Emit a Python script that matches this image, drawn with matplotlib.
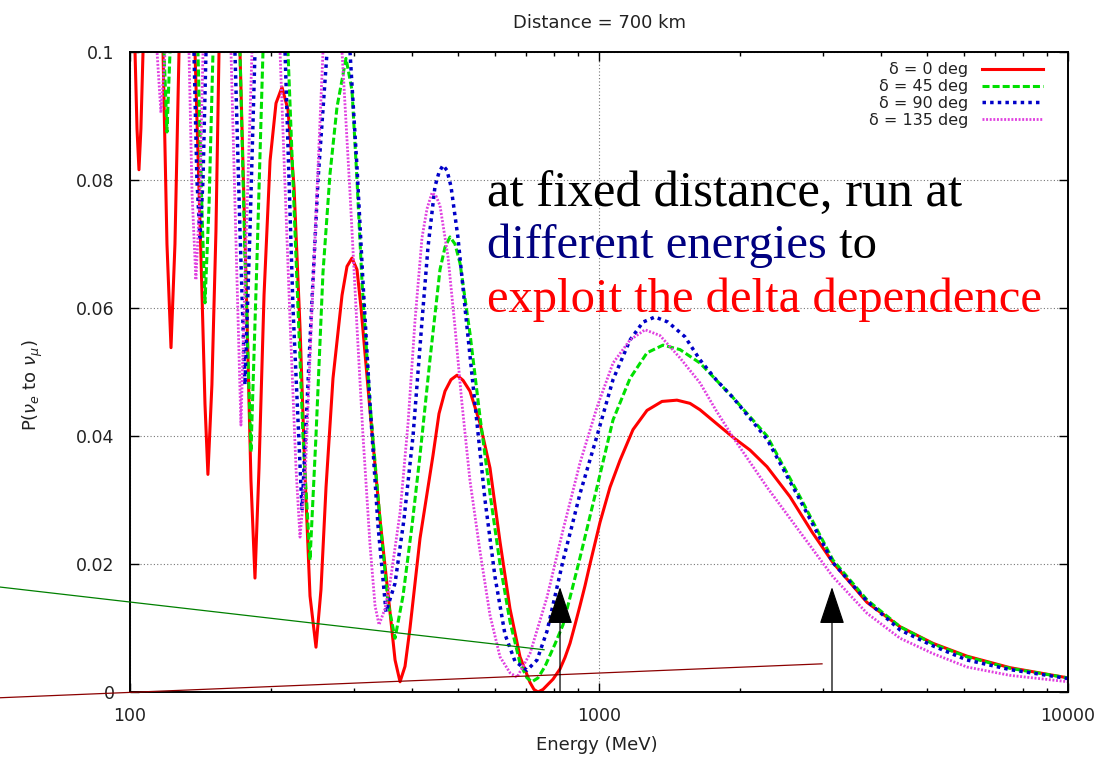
import matplotlib
matplotlib.use('Agg')
from matplotlib import pyplot as plt
from matplotlib.ticker import NullFormatter

# (energy in MeV, probability); values above 0.1 are clipped by the frame
red_delta0 = [(100, 0.125), (102.5, 0.100), (103.5, 0.088), (104.5, 0.0816), (105.5, 0.088), (106.6, 0.100),
              (112.0, 0.150), (117.6, 0.100), (119.9, 0.070), (122.3, 0.0538), (124.7, 0.070), (127.2, 0.100),
              (132.3, 0.135), (137.6, 0.100), (141.7, 0.068), (144.5, 0.045), (146.6, 0.034), (149.5, 0.048),
              (152.5, 0.072), (154.8, 0.100), (162.6, 0.120), (171.6, 0.100), (176.7, 0.065), (181.1, 0.033),
              (184.7, 0.0178), (188.4, 0.035), (193.1, 0.062), (198.9, 0.083), (204.8, 0.092), (210.9, 0.0945),
              (217.2, 0.091), (223.7, 0.079), (230.4, 0.057), (236.1, 0.034), (242.0, 0.015), (249.2, 0.0070),
              (255.4, 0.016), (261.8, 0.032), (270.9, 0.049), (283.2, 0.062), (290.2, 0.0665), (297.4, 0.0678),
              (304.8, 0.0660), (310.9, 0.060), (324.9, 0.044), (341.2, 0.027), (358.4, 0.0125), (367.4, 0.0050),
              (376.5, 0.0016), (385.8, 0.0040), (395.4, 0.010), (415.3, 0.024), (442.7, 0.037), (455.9, 0.0435),
              (469.5, 0.0470), (483.5, 0.0488), (498.0, 0.0495), (512.9, 0.0487), (530.8, 0.047), (557.5, 0.042),
              (585.6, 0.035), (615.0, 0.0235), (646.0, 0.013), (678.5, 0.0055), (712.6, 0.0015), (726.7, 0.0004),
              (741.2, 0.0000), (759.7, 0.0004), (778.5, 0.0012), (797.9, 0.0020), (825.8, 0.0036), (846.3, 0.0054),
              (867.3, 0.0076), (888.9, 0.0105), (911.0, 0.0135), (933.6, 0.0166), (956.8, 0.0200),
              (1004.9, 0.0265), (1055.5, 0.0320), (1108.6, 0.0362), (1181.7, 0.0410), (1265.7, 0.0440),
              (1362.4, 0.0454), (1466.5, 0.0456), (1563.1, 0.0451), (1641.8, 0.0441), (1776.6, 0.0420),
              (1930.7, 0.0398), (2098.9, 0.0378), (2281.6, 0.0352), (2554.6, 0.0305), (2846.0, 0.0250),
              (3154.5, 0.0202), (3727.6, 0.0140), (4383.8, 0.0102), (5154.9, 0.0076), (6091.3, 0.0056),
              (7521.3, 0.0038), (10000, 0.0022)]

green_delta45 = [(100, 0.130), (110.3, 0.150), (118.2, 0.100), (119.9, 0.0875), (121.7, 0.100), (130.3, 0.140),
                 (139.6, 0.100), (142.4, 0.075), (144.5, 0.0608), (147.4, 0.076), (150.3, 0.100), (160.2, 0.130),
                 (171.6, 0.100), (175.8, 0.068), (181.1, 0.0375), (186.6, 0.068), (192.1, 0.100), (203.8, 0.120),
                 (217.2, 0.100), (225.9, 0.068), (233.8, 0.040), (242.0, 0.0206), (249.2, 0.040), (257.9, 0.0655),
                 (267.0, 0.081), (276.3, 0.0914), (288.8, 0.099), (297.4, 0.094), (304.8, 0.080), (312.4, 0.064),
                 (324.9, 0.045), (341.2, 0.027), (354.9, 0.014), (367.4, 0.0084), (382.0, 0.015), (399.3, 0.026),
                 (415.3, 0.037), (436.2, 0.052), (458.1, 0.066), (469.5, 0.0695), (481.2, 0.0711), (493.1, 0.0700),
                 (505.4, 0.067), (530.8, 0.056), (557.5, 0.043), (585.6, 0.031), (615.0, 0.020), (646.0, 0.011),
                 (678.5, 0.0045), (702.2, 0.0022), (719.7, 0.0016), (741.2, 0.0022), (767.1, 0.0040),
                 (805.8, 0.0075), (838.0, 0.0105), (875.9, 0.0160), (911.0, 0.0210), (990.2, 0.0320),
                 (1071.2, 0.0425), (1164.5, 0.0490), (1265.7, 0.0530), (1369.1, 0.0542), (1488.3, 0.0535),
                 (1641.8, 0.0514), (1930.7, 0.0460), (2281.6, 0.0400), (2682.7, 0.0305), (3154.5, 0.0206),
                 (3727.6, 0.0144), (4383.8, 0.0102), (5154.9, 0.0075), (6091.3, 0.0055), (7521.3, 0.0037),
                 (10000, 0.0022)]

blue_delta90 = [(100, 0.130), (110.3, 0.150), (120.5, 0.103), (128.4, 0.140), (136.9, 0.100), (138.9, 0.080),
                (141.0, 0.071), (143.1, 0.080), (145.2, 0.100), (155.5, 0.130), (167.4, 0.100), (171.6, 0.072),
                (175.8, 0.048), (180.2, 0.072), (184.7, 0.100), (198.9, 0.125), (214.1, 0.100), (222.6, 0.060),
                (232.7, 0.0284), (242.0, 0.055), (251.7, 0.080), (263.1, 0.100), (277.7, 0.112), (294.5, 0.100),
                (304.8, 0.082), (313.9, 0.064), (324.9, 0.045), (337.9, 0.026), (351.5, 0.0125), (367.4, 0.017),
                (383.9, 0.027), (401.3, 0.040), (419.4, 0.058), (431.9, 0.0695), (447.0, 0.079), (455.9, 0.0812),
                (464.9, 0.0823), (474.1, 0.0815), (483.5, 0.079), (500.4, 0.071), (518.0, 0.060), (544.0, 0.045),
                (571.4, 0.030), (600.1, 0.018), (630.3, 0.009), (662.0, 0.0048), (702.2, 0.0034), (737.6, 0.0050),
                (774.7, 0.0095), (805.8, 0.0150), (838.0, 0.0205), (875.9, 0.0260), (911.0, 0.0310),
                (990.2, 0.0400), (1071.2, 0.0488), (1164.5, 0.0550), (1241.1, 0.0578), (1316.4, 0.0586),
                (1403.1, 0.0578), (1525.2, 0.0555), (1641.8, 0.0519), (1776.6, 0.0488), (1930.7, 0.0460),
                (2281.6, 0.0395), (2682.7, 0.0300), (3154.5, 0.0202), (3727.6, 0.0142), (4383.8, 0.0097),
                (5154.9, 0.0072), (6091.3, 0.0050), (7521.3, 0.0035), (10000, 0.0021)]

magenta_delta135 = [(100, 0.130), (107.6, 0.135), (114.2, 0.100), (116.4, 0.0905), (118.8, 0.100), (125.9, 0.135),
                    (133.6, 0.100), (135.6, 0.078), (138.2, 0.0644), (141.0, 0.078), (143.1, 0.100),
                    (153.3, 0.130), (164.2, 0.100), (168.3, 0.070), (172.4, 0.0417), (176.7, 0.070),
                    (182.0, 0.100), (195.0, 0.125), (208.9, 0.100), (219.4, 0.058), (225.9, 0.035),
                    (230.4, 0.0242), (236.1, 0.033), (244.4, 0.060), (257.9, 0.100), (270.9, 0.112),
                    (283.2, 0.100), (294.5, 0.078), (304.8, 0.057), (313.9, 0.040), (324.9, 0.023),
                    (333.0, 0.0135), (339.6, 0.0105), (349.7, 0.013), (358.4, 0.017), (376.5, 0.028),
                    (391.6, 0.042), (405.2, 0.058), (419.4, 0.071), (429.8, 0.0755), (440.5, 0.078),
                    (449.2, 0.0775), (458.1, 0.076), (476.5, 0.068), (493.1, 0.057), (510.4, 0.045),
                    (530.8, 0.033), (557.5, 0.022), (585.6, 0.012), (615.0, 0.0055), (646.0, 0.0030),
                    (668.6, 0.0023), (712.6, 0.0060), (774.7, 0.0148), (838.0, 0.0253), (911.0, 0.0358),
                    (990.2, 0.0445), (1071.2, 0.0514), (1164.5, 0.0550), (1253.3, 0.0566), (1349.1, 0.0557),
                    (1488.3, 0.0522), (1641.8, 0.0483), (1776.6, 0.0440), (1930.7, 0.0398), (2281.6, 0.0320),
                    (2682.7, 0.0250), (3154.5, 0.0180), (3727.6, 0.0123), (4383.8, 0.0084), (5154.9, 0.0060),
                    (6091.3, 0.0039), (7521.3, 0.0026), (10000, 0.0016)]

labels = ['δ = 0 deg', 'δ = 45 deg', 'δ = 90 deg', 'δ = 135 deg']

x_ticks = [100, 1000, 10000]
x_tick_labels = ['100', '1000', '10000']
y_ticks = [0, 0.02, 0.04, 0.06, 0.08, 0.1]
y_tick_labels = ['0', '0.02', '0.04', '0.06', '0.08', '0.1']

# slide overlay: two thin guide lines and two arrows (energy MeV, probability)
green_guide = [(52.8, 0.0164), (763.6, 0.0066)]
darkred_guide = [(52.8, -0.0009), (2989, 0.0044)]
arrow_energies = [825.8, 3139]
arrow_tip = 0.0164

text_color = '#222222'

fig = plt.figure(figsize=(11.03, 7.57), dpi=100)
ax = fig.add_axes([0.11786, 0.08587, 0.85041, 0.84544])

styles = [
    dict(color='#ff0000', lw=2.2, ls='-'),
    dict(color='#00e000', lw=2.2, ls=(0, (2.3, 1.0))),
    dict(color='#0000c8', lw=2.5, ls=(0, (1.0, 1.2))),
    dict(color='#e040e0', lw=2.0, ls=(0, (0.7, 0.6))),
]
for data, label, st in zip([red_delta0, green_delta45, blue_delta90, magenta_delta135], labels, styles):
    e, p = zip(*data)
    ax.plot(e, p, label=label, **st)

ax.set_xscale('log')
ax.set_xlim(100, 10000)
ax.set_ylim(0, 0.1)
ax.set_xticks(x_ticks, labels=x_tick_labels)
ax.set_yticks(y_ticks, labels=y_tick_labels)
ax.xaxis.set_minor_formatter(NullFormatter())
ax.tick_params(which='both', direction='in', top=True, right=True, colors='black',
               labelcolor=text_color, labelsize=12.5, pad=11)
ax.tick_params(which='major', length=6.5, width=1)
ax.tick_params(which='minor', length=3.2, width=1)
ax.grid(True, which='major', color='#777777', linestyle=(0, (1, 2)), linewidth=0.8)
for s in ax.spines.values():
    s.set_linewidth(1.4)

ax.set_title('Distance = 700 km', fontsize=13, color=text_color, pad=17)
ax.set_xlabel('Energy (MeV)', fontsize=13, color=text_color, va='center')
ax.xaxis.set_label_coords(0.498, -0.083)
ax.set_ylabel(r'P($\nu_e$ to $\nu_\mu$)', fontsize=13, color=text_color, va='center')
ax.yaxis.set_label_coords(-0.104, 0.48)

leg = ax.legend(loc='upper right', bbox_to_anchor=(0.9733, 0.984), frameon=False, markerfirst=False,
                fontsize=11.5, handlelength=3.8, handletextpad=0.9, labelspacing=0.12,
                borderpad=0, borderaxespad=0)
for t in leg.get_texts():
    t.set_color(text_color)

# overlays from the slide
for guide, col in [(green_guide, '#008000'), (darkred_guide, '#8b0000')]:
    e, p = zip(*guide)
    ax.plot(e, p, color=col, lw=0.9, clip_on=False, zorder=6)
for e in arrow_energies:
    ax.annotate('', xy=(e, arrow_tip), xytext=(e, 0), annotation_clip=False, zorder=7,
                arrowprops=dict(arrowstyle='-|>,head_length=1.2,head_width=0.4', color='black',
                                lw=0.9, mutation_scale=20, shrinkA=0, shrinkB=0))

serif = ['Liberation Serif', 'DejaVu Serif']
fig.text(0.4415, 0.7266, 'at fixed distance, run at', family=serif, fontsize=36.5,
         color='black', va='baseline')
t2 = fig.text(0.4415, 0.6592, 'different energies', family=serif, fontsize=35,
              color='#000080', va='baseline')
fig.text(0.4415, 0.5878, 'exploit the delta dependence', family=serif, fontsize=35,
         color='#ff0000', va='baseline')
fig.canvas.draw()
ax.annotate(' to', xy=(1, 0), xycoords=t2, family=serif, fontsize=35, color='black',
            va='bottom', ha='left', annotation_clip=False)

fig.savefig('out.png', dpi=100)
